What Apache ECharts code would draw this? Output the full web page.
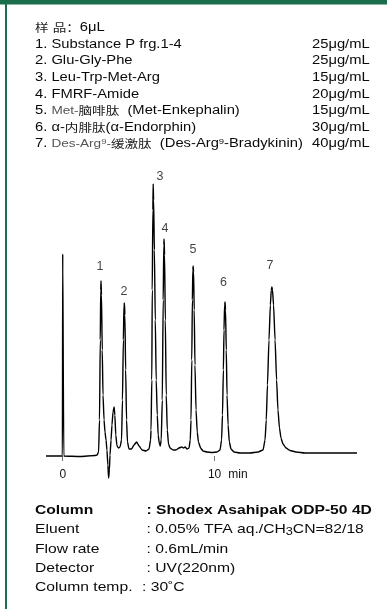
<!DOCTYPE html>
<html>
<head>
<meta charset="utf-8">
<script src="https://cdn.jsdelivr.net/npm/echarts/dist/echarts.min.js"></script>
<style>
html,body{margin:0;padding:0;background:#fff;}
#c{width:387px;height:609px;}
</style>
</head>
<body>
<div id="c"></div>
<script>
// ---------- data ----------
const sampleTitle = '样 品：6μL';
const compoundNames = [
  '1. Substance P frg.1-4',
  '2. Glu-Gly-Phe',
  '3. Leu-Trp-Met-Arg',
  '4. FMRF-Amide',
  '5. Met-脑啡肽  (Met-Enkephalin)',
  '6. α-内腓肽(α-Endorphin)',
  '7. Des-Arg^9-缓激肽  (Des-Arg^9-Bradykinin)'
];
const concentrations = ['25μg/mL','25μg/mL','15μg/mL','20μg/mL','15μg/mL','30μg/mL','40μg/mL'];

const conditionLabels = ['Column', 'Eluent', 'Flow rate', 'Detector', 'Column temp.'];
const conditionValues = [': Shodex Asahipak ODP-50 4D', ': 0.05% TFA aq./CH_3CN=82/18', ': 0.6mL/min', ': UV(220nm)', ': 30˚C'];

const tickValues = [0, 10];
const timeUnit = 'min';

const peakLabelNames  = ['1', '2', '3', '4', '5', '6', '7'];
const peakLabelTimes  = [2.45, 4.03, 6.40, 6.73, 8.57, 10.57, 13.64];
const peakLabelLevels = [189, 164, 279, 227.5, 206, 173, 190];

// [time (min), detector signal]
const chromatogram = [
  [-1.10,0],[-0.02,0],[0.00,202],[0.03,202],[0.07,0],[1.14,-0.5],[2.12,0.5],[2.26,1],[2.36,4],
  [2.42,36],[2.47,116],[2.50,166],[2.52,175],[2.55,161],[2.60,106],[2.65,61],[2.72,36],
  [2.78,24],[2.85,16],[2.91,6],[2.97,-9],[3.02,-22],[3.07,-14],[3.11,1],[3.18,16],
  [3.24,31],[3.31,44],[3.38,49],[3.43,41],[3.49,21],[3.57,10],[3.67,8],[3.77,9],
  [3.87,16],[3.93,56],[3.99,116],[4.03,151],[4.06,153],[4.09,141],[4.14,86],[4.20,36],
  [4.26,14],[4.36,7],[4.53,7],[4.69,11],[4.86,14],[5.02,10],[5.22,6],[5.48,5],
  [5.68,7],[5.78,16],[5.81,26],[5.86,76],[5.89,166],[5.93,246],[5.95,272],[5.98,256],
  [6.03,206],[6.09,136],[6.15,76],[6.22,41],[6.28,21],[6.36,12],[6.42,10],[6.48,16],
  [6.55,56],[6.61,156],[6.65,211],[6.67,217],[6.70,201],[6.75,136],[6.81,61],[6.88,26],
  [6.96,12],[7.06,8],[7.26,6],[7.45,6],[7.65,8],[7.82,9],[7.95,8],[8.05,9],
  [8.18,7],[8.31,8],[8.39,16],[8.44,36],[8.49,96],[8.53,156],[8.56,186],[8.58,190],
  [8.61,184],[8.65,146],[8.70,91],[8.77,46],[8.85,24],[8.93,14],[9.07,8],[9.23,5],
  [9.49,4],[9.82,3.5],[10.15,4],[10.35,6],[10.45,16],[10.51,41],[10.57,86],[10.61,126],
  [10.65,151],[10.68,154],[10.71,146],[10.76,106],[10.81,61],[10.88,31],[10.96,14],[11.07,7],
  [11.27,4],[11.66,3],[12.32,3],[12.85,4],[13.18,6],[13.31,16],[13.39,36],[13.47,71],
  [13.57,116],[13.66,151],[13.72,166],[13.76,169],[13.80,166],[13.87,151],[13.97,116],[14.07,76],
  [14.16,46],[14.26,28],[14.36,18],[14.49,12],[14.69,8],[14.95,5.5],[15.35,4],[15.94,3],
  [19.36,3]
];

// ---------- rendering ----------
const FONT = '"Liberation Sans", Arial, Helvetica, "Noto Sans CJK SC", sans-serif';
const CJK = '"Noto Sans CJK SC", "Noto Sans CJK JP", sans-serif';
const GREEN = '#1b6e4b';

function richify(str) {
  const isCJK = c => /[\u4e00-\u9fff\uff1a]/.test(c);
  const cjkIdx = str.search(/[\u4e00-\u9fff]/);
  const numEnd = str.indexOf('. ') + 2;
  const prefix = cjkIdx > numEnd ? str.slice(numEnd, cjkIdx) : '';
  const grayPrefix = prefix && /^[A-Za-z0-9^-]+$/.test(prefix);
  let out = '', cur = null, buf = '';
  const flush = () => { if (buf) { out += '{' + cur + '|' + buf + '}'; buf = ''; } };
  for (let i = 0; i < str.length; i++) {
    let ch = str[i], st;
    const inPrefix = grayPrefix && i >= numEnd && i < cjkIdx;
    if (ch === '^') { i++; ch = str[i]; st = inPrefix ? 'gsup' : 'sup'; }
    else if (ch === '_') { i++; ch = str[i]; st = 'sub'; }
    else if (isCJK(ch)) st = 'c';
    else st = inPrefix ? 'g' : 'n';
    if (st !== cur) { flush(); cur = st; }
    buf += ch;
  }
  flush();
  return out;
}

const HF = 12.5, HS = 1.18;
const headRich = {
  n: {fontSize: HF, fontFamily: FONT, fill: '#0a0a0a'},
  g: {fontSize: 11.5, fontFamily: FONT, fill: '#555'},
  c: {fontSize: 11.5, fontFamily: CJK, fill: '#1a1a1a'},
  sup: {fontSize: 8, fontFamily: FONT, fill: '#0a0a0a', verticalAlign: 'top'},
  gsup: {fontSize: 8, fontFamily: FONT, fill: '#555', verticalAlign: 'top'},
  sub: {fontSize: 10, fontFamily: FONT, fill: '#0a0a0a', verticalAlign: 'bottom'}
};

const graphics = [
  {type: 'rect', shape: {x: 0, y: 0, width: 387, height: 4.5}, style: {fill: GREEN}, silent: true},
  {type: 'rect', shape: {x: 5, y: 0, width: 2, height: 609}, style: {fill: GREEN}, silent: true}
];

const headY0 = 27.8, headStep = 16.6;
graphics.push({
  type: 'text', x: 35, y: headY0, scaleX: HS,
  style: {text: richify(sampleTitle), rich: headRich, verticalAlign: 'middle', align: 'left'}
});
compoundNames.forEach((name, i) => {
  const y = headY0 + headStep * (i + 1);
  graphics.push({type: 'text', x: 35, y: y, scaleX: HS,
    style: {text: richify(name), rich: headRich, verticalAlign: 'middle', align: 'left'}});
  graphics.push({type: 'text', x: 312, y: y, scaleX: HS,
    style: {text: concentrations[i], fontSize: HF, fontFamily: FONT, fill: '#0a0a0a', verticalAlign: 'middle', align: 'left'}});
});

const BF = 13.5, BS = 1.16;
const condY0 = 510, condStep = 19.4;
conditionLabels.forEach((lab, i) => {
  const y = condY0 + condStep * i;
  const bold = i === 0 ? 'bold' : 'normal';
  const rich = {
    n: {fontSize: BF, fontFamily: FONT, fontWeight: bold, fill: '#0a0a0a'},
    sub: {fontSize: 11, fontFamily: FONT, fontWeight: bold, fill: '#0a0a0a', padding: [5, 0, 0, 0]},
    c: {fontSize: BF, fontFamily: FONT, fontWeight: bold, fill: '#0a0a0a'},
    g: {fontSize: BF, fontFamily: FONT, fontWeight: bold, fill: '#0a0a0a'}
  };
  graphics.push({type: 'text', x: 35, y: y, scaleX: BS,
    style: {text: lab, fontSize: BF, fontFamily: FONT, fontWeight: bold, fill: '#0a0a0a', verticalAlign: 'middle', align: 'left'}});
  graphics.push({type: 'text', x: i === 4 ? 142 : 146.5, y: y, scaleX: BS,
    style: {text: richify(conditionValues[i]), rich: rich, verticalAlign: 'middle', align: 'left'}});
});

const chart = echarts.init(document.getElementById('c'), null, {renderer: 'canvas'});
chart.setOption({
  backgroundColor: '#fff',
  animation: false,
  grid: {left: 46, right: 30, top: 171, bottom: 148, containLabel: false},
  xAxis: {
    type: 'value', min: -1.1, max: 19.36,
    axisLine: {show: false},
    splitLine: {show: false},
    axisTick: {show: true, customValues: tickValues, length: 5, lineStyle: {color: '#777', width: 1}},
    axisLabel: {
      show: true, customValues: tickValues, margin: 8, color: '#111',
      fontFamily: FONT, fontSize: 12,
      formatter: v => v === 10 ? '{p|}{n|' + v + '}{u|' + timeUnit + '}' : '{n|' + v + '}',
      rich: {
        p: {width: 26, fontSize: 12},
        n: {fontSize: 12, fontFamily: FONT, color: '#111'},
        u: {fontSize: 12, fontFamily: FONT, color: '#111', padding: [0, 0, 0, 7]}
      }
    }
  },
  yAxis: {type: 'value', min: -5, max: 285, show: false},
  graphic: graphics,
  series: [
    {
      type: 'line', data: chromatogram, showSymbol: false, symbol: 'none',
      smooth: 0.2, smoothMonotone: 'x', clip: false,
      lineStyle: {color: '#000', width: 1.4}
    },
    {
      type: 'scatter', symbolSize: 0, clip: false,
      data: peakLabelNames.map((n, i) => ({name: n, value: [peakLabelTimes[i], peakLabelLevels[i]]})),
      label: {show: true, position: 'inside', formatter: p => p.name, color: '#111', fontSize: 12.5, fontFamily: FONT}
    }
  ]
});
</script>
</body>
</html>
